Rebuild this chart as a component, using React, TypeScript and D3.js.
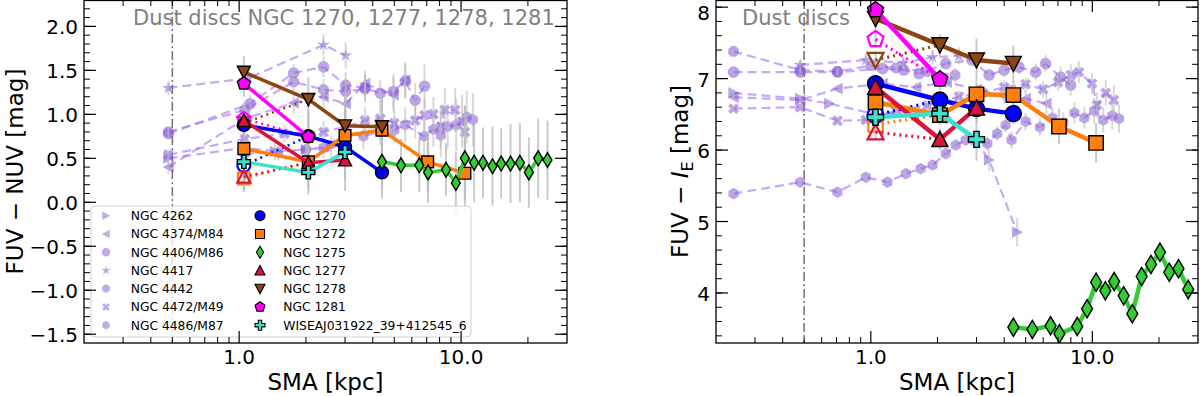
import * as React from "react"
import * as d3 from "d3"

const FONT = "DejaVu Sans, Liberation Sans, sans-serif"

// annuli of the dust-disc galaxies [kpc]
const SMA_DISC = [1.05, 2.05, 3.0, 4.4, 7.07, 10.4]
const SMA_1275 = [4.4, 5.36, 6.48, 7.1, 8.55, 9.47, 10.4, 11.45, 12.55, 13.85, 15.15, 16.7, 18.4, 20.2, 22.25, 24.5, 27.1]

// FUV - NUV : [value, error] per annulus
const nuv1270 = [[0.88, 0.15], [0.75, 0.2], [0.63, 0.25], [0.34, 0.3]]
const nuv1272 = [[0.61, 0.15], [0.46, 0.2], [0.76, 0.3], [0.82, 0.35], [0.46, 0.35], [0.33, 0.3]]
const nuv1275 = [[0.46, 0.3], [0.42, 0.3], [0.42, 0.3], [0.34, 0.35], [0.37, 0.3], [0.22, 0.35], [0.5, 0.6], [0.45, 0.45], [0.45, 0.4], [0.41, 0.45], [0.44, 0.4], [0.44, 0.45], [0.45, 0.45], [0.34, 0.4], [0.5, 0.45], [0.48, 0.45]]
const nuv1277 = [[0.93, 0.2], [0.45, 0.3], [0.48, 0.35]]
const nuv1278 = [[1.48, 0.18], [1.17, 0.25], [0.87, 0.35], [0.86, 0.35]]
const nuv1281 = [[1.35, 0.15], [0.745, 0.3]]
const nuvWisea = [[0.46, 0.2], [0.34, 0.25], [0.57, 0.3]]
// inner measurement (open symbols) at the first annulus
const nuvIn1270 = [0.42, 0.2]
const nuvIn1272 = [0.27, 0.15]
const nuvIn1277 = [0.29, 0.15]
const nuvIn1278 = [0.9, 0.2]
const nuvIn1281 = [0.95, 0.15]

// FUV - I_E : [value, error] per annulus
const ie1270 = [[6.93, 0.1], [6.7, 0.12], [6.58, 0.15], [6.51, 0.15]]
const ie1272 = [[6.67, 0.1], [6.49, 0.12], [6.78, 0.15], [6.77, 0.2], [6.33, 0.25], [6.1, 0.28]]
const ie1275 = [[3.52, 0.08], [3.49, 0.08], [3.54, 0.08], [3.43, 0.08], [3.53, 0.08], [3.78, 0.1], [4.15, 0.1], [4.03, 0.1], [4.16, 0.1], [3.96, 0.1], [3.71, 0.12], [4.23, 0.12], [4.4, 0.12], [4.57, 0.12], [4.29, 0.12], [4.34, 0.14], [4.05, 0.16]]
const ie1277 = [[6.88, 0.12], [6.15, 0.15], [6.59, 0.2]]
const ie1278 = [[7.84, 0.15], [7.47, 0.15], [7.26, 0.3], [7.21, 0.25]]
const ie1281 = [[7.96, 0.15], [6.99, 0.15]]
const ieWisea = [[6.46, 0.12], [6.51, 0.15], [6.15, 0.3]]
const ieIn1270 = [6.49, 0.1]
const ieIn1272 = [6.36, 0.1]
const ieIn1277 = [6.25, 0.1]
const ieIn1278 = [7.26, 0.12]
const ieIn1281 = [7.55, 0.12]

// comparison galaxies : [sma, value, error]
const nuv4262 = [[0.48, 0.5, 0.08], [1.06, 0.62, 0.1], [1.45, 0.58, 0.1], [2.0, 0.6, 0.12], [2.6, 0.63, 0.12], [3.0, 0.66, 0.15]]
const nuv4374 = [[0.48, 0.4, 0.08], [1.06, 0.95, 0.1], [1.76, 1.13, 0.12], [2.4, 1.2, 0.12], [3.02, 1.12, 0.15], [3.69, 1.35, 0.15], [4.96, 1.22, 0.2], [5.6, 1.39, 0.2]]
const nuv4406 = [[0.48, 0.78, 0.06], [1.12, 1.12, 0.1], [1.76, 1.47, 0.1], [2.4, 1.54, 0.12], [3.02, 1.33, 0.15], [3.69, 1.3, 0.15], [4.32, 1.24, 0.15], [4.96, 1.26, 0.2], [5.6, 1.38, 0.2], [6.21, 1.16, 0.2], [6.84, 1.32, 0.25]]
const nuv4417 = [[0.48, 1.3, 0.08], [1.1, 1.41, 0.1], [2.4, 1.79, 0.12], [3.02, 1.67, 0.15]]
const nuv4442 = [[0.48, 0.8, 0.06], [1.06, 1.05, 0.1], [1.76, 1.37, 0.12], [2.4, 1.28, 0.12], [3.02, 1.26, 0.15], [3.69, 1.29, 0.15]]
const nuv4472 = [[0.48, 0.54, 0.06], [1.06, 0.72, 0.1], [1.6, 0.78, 0.1], [2.4, 0.8, 0.12], [3.02, 0.86, 0.12], [3.69, 0.93, 0.15], [4.32, 0.95, 0.15], [5.0, 0.9, 0.15], [6.21, 0.93, 0.2], [6.84, 0.99, 0.2], [7.5, 1.0, 0.2], [8.1, 0.86, 0.25], [8.45, 1.05, 0.25], [9.4, 1.05, 0.25], [10.1, 0.92, 0.3], [10.4, 0.8, 0.3]]
const nuv4486 = [[1.06, 0.55, 0.1], [1.5, 0.57, 0.1], [2.0, 0.6, 0.1], [2.4, 0.62, 0.12], [3.02, 0.79, 0.12], [3.63, 0.75, 0.15], [4.32, 0.8, 0.15], [5.0, 0.82, 0.15], [5.6, 0.88, 0.2], [6.81, 0.75, 0.25], [7.5, 0.83, 0.2], [8.1, 0.76, 0.25], [8.7, 0.86, 0.25], [9.5, 0.88, 0.3], [10.6, 0.97, 0.3], [11.3, 0.94, 0.3]]

const ie4262 = [[0.24, 6.8, 0.05], [0.48, 6.72, 0.05], [0.65, 6.65, 0.05], [1.05, 6.5, 0.06], [1.5, 6.55, 0.08], [2.2, 6.45, 0.1], [2.97, 6.14, 0.12], [3.42, 5.86, 0.15], [4.58, 4.85, 0.2]]
const ie4374 = [[0.24, 6.74, 0.04], [0.48, 6.7, 0.04], [0.707, 6.86, 0.05], [1.13, 6.93, 0.05], [1.6, 6.88, 0.06], [2.2, 6.95, 0.08], [3.0, 6.85, 0.1], [4.0, 6.75, 0.1], [5.0, 6.72, 0.12], [6.2, 6.65, 0.15]]
const ie4406 = [[0.24, 7.09, 0.04], [0.48, 7.09, 0.04], [0.707, 7.09, 0.04], [1.13, 7.14, 0.05], [1.41, 7.12, 0.05], [1.65, 7.07, 0.06], [2.18, 7.21, 0.06], [2.86, 7.26, 0.08], [3.42, 7.05, 0.08], [4.0, 7.12, 0.1], [4.67, 7.16, 0.1], [5.55, 7.09, 0.12], [6.15, 7.21, 0.12], [7.19, 7.02, 0.15], [7.98, 6.91, 0.15]]
const ie4417 = [[0.48, 7.19, 0.05], [0.95, 7.26, 0.06], [1.4, 7.22, 0.08], [1.9, 7.3, 0.1], [2.5, 7.32, 0.12]]
const ie4442 = [[0.24, 7.38, 0.04], [0.48, 7.12, 0.04], [0.707, 7.1, 0.05], [1.0, 7.18, 0.05], [1.3, 7.15, 0.06], [1.8, 7.1, 0.08], [2.4, 7.05, 0.1]]
const ie4472 = [[0.24, 6.58, 0.04], [0.48, 6.6, 0.04], [0.707, 6.41, 0.05], [0.95, 6.42, 0.05], [1.3, 6.55, 0.06], [1.8, 6.62, 0.06], [2.5, 6.75, 0.08], [3.2, 6.8, 0.08], [4.0, 6.88, 0.1], [5.0, 6.92, 0.1], [6.0, 6.85, 0.12], [7.0, 6.95, 0.12], [8.0, 7.05, 0.15], [8.7, 7.09, 0.15], [9.97, 6.93, 0.15], [10.5, 6.63, 0.18], [11.5, 6.8, 0.18], [12.5, 6.7, 0.2]]
const ie4486 = [[0.24, 5.39, 0.04], [0.48, 5.55, 0.04], [0.707, 5.41, 0.05], [0.95, 5.62, 0.05], [1.19, 5.55, 0.05], [1.44, 5.67, 0.06], [1.68, 5.74, 0.06], [1.9, 5.79, 0.06], [2.18, 5.95, 0.08], [2.42, 6.07, 0.08], [2.68, 6.14, 0.08], [3.36, 6.09, 0.1], [3.72, 6.23, 0.1], [4.06, 6.35, 0.1], [4.32, 6.14, 0.12], [5.0, 6.4, 0.12], [5.8, 6.32, 0.12], [6.6, 6.45, 0.15], [7.4, 6.38, 0.15], [8.3, 6.52, 0.15], [9.2, 6.45, 0.15], [10.2, 6.55, 0.18], [11.2, 6.42, 0.18], [12.3, 6.48, 0.2], [13.2, 6.44, 0.2]]

const comparison = [
  { name: "NGC 4262", shape: ">", nuv: nuv4262, ie: ie4262 },
  { name: "NGC 4374/M84", shape: "<", nuv: nuv4374, ie: ie4374 },
  { name: "NGC 4406/M86", shape: "o", nuv: nuv4406, ie: ie4406 },
  { name: "NGC 4417", shape: "*", nuv: nuv4417, ie: ie4417 },
  { name: "NGC 4442", shape: "8", nuv: nuv4442, ie: ie4442 },
  { name: "NGC 4472/M49", shape: "X", nuv: nuv4472, ie: ie4472 },
  { name: "NGC 4486/M87", shape: "h", nuv: nuv4486, ie: ie4486 },
]

const discs = [
  { name: "NGC 1270", shape: "o", color: "#0000ff", sma: SMA_DISC, nuv: nuv1270, ie: ie1270, nuvIn: nuvIn1270, ieIn: ieIn1270 },
  { name: "NGC 1272", shape: "s", color: "#ff7f0e", sma: SMA_DISC, nuv: nuv1272, ie: ie1272, nuvIn: nuvIn1272, ieIn: ieIn1272 },
  { name: "NGC 1275", shape: "d", color: "#32cd32", sma: SMA_1275, nuv: nuv1275, ie: ie1275, nuvIn: null, ieIn: null },
  { name: "NGC 1277", shape: "^", color: "#dc143c", sma: SMA_DISC, nuv: nuv1277, ie: ie1277, nuvIn: nuvIn1277, ieIn: ieIn1277 },
  { name: "NGC 1278", shape: "v", color: "#8b4513", sma: SMA_DISC, nuv: nuv1278, ie: ie1278, nuvIn: nuvIn1278, ieIn: ieIn1278 },
  { name: "NGC 1281", shape: "p", color: "#ff00ff", sma: SMA_DISC, nuv: nuv1281, ie: ie1281, nuvIn: nuvIn1281, ieIn: ieIn1281 },
  { name: "WISEAJ031922_39+412545_6", shape: "P", color: "#40e0d0", sma: SMA_DISC, nuv: nuvWisea, ie: ieWisea, nuvIn: null, ieIn: null },
]

const PURPLE = "#8456d8"
const PURPLE_LINE = "#a56ef2"
const ERR = "#b8b8b8"

function poly(pts: number[][]) {
  return "M" + pts.map(p => p[0].toFixed(2) + "," + p[1].toFixed(2)).join("L") + "Z"
}

function regular(n: number, r: number, rot: number) {
  return poly(d3.range(n).map(i => {
    const a = rot + (i * 2 * Math.PI) / n
    return [r * Math.sin(a), -r * Math.cos(a)]
  }))
}

function plus(r: number, rot: number) {
  const a = r / 3
  const pts = [[-a, -r], [a, -r], [a, -a], [r, -a], [r, a], [a, a], [a, r], [-a, r], [-a, a], [-r, a], [-r, -a], [-a, -a]]
  const c = Math.cos(rot), s = Math.sin(rot)
  return poly(pts.map(p => [p[0] * c - p[1] * s, p[0] * s + p[1] * c]))
}

function marker(shape: string, r: number): string {
  switch (shape) {
    case "o": return d3.symbol(d3.symbolCircle, Math.PI * r * r)() as string
    case "s": return poly([[-r * 0.9, -r * 0.9], [r * 0.9, -r * 0.9], [r * 0.9, r * 0.9], [-r * 0.9, r * 0.9]])
    case "^": return poly([[0, -r], [r, r * 0.9], [-r, r * 0.9]])
    case "v": return poly([[0, r], [r, -r * 0.9], [-r, -r * 0.9]])
    case ">": return poly([[r, 0], [-r * 0.9, r], [-r * 0.9, -r]])
    case "<": return poly([[-r, 0], [r * 0.9, r], [r * 0.9, -r]])
    case "d": return poly([[0, -r * 1.2], [r * 0.72, 0], [0, r * 1.2], [-r * 0.72, 0]])
    case "p": return regular(5, r * 1.05, 0)
    case "h": return regular(6, r, 0)
    case "8": return regular(8, r, Math.PI / 8)
    case "*": return poly(d3.range(10).map(i => {
      const a = (i * Math.PI) / 5
      const rr = i % 2 ? r * 0.42 : r * 1.2
      return [rr * Math.sin(a), -rr * Math.cos(a)]
    }))
    case "P": return plus(r, 0)
    case "X": return plus(r, Math.PI / 4)
  }
  return ""
}

type Scale = d3.ScaleContinuousNumeric<number, number>

function Panel(p: {
  id: string
  x: Scale
  y: Scale
  band: "nuv" | "ie"
  yMajor: number[]
  yMinor: number[]
  yFmt: (v: number) => string
  labelX: number
  label: React.ReactNode
  noteX: number
  note: string
  r: number
  lw: number
  legend: boolean
}) {
  const { x, y, band, r, lw } = p
  const [x0, x1] = x.range()
  const [y0, y1] = y.range()
  const line = d3.line<number[]>().x(d => x(d[0])).y(d => y(d[1]))
  const xMajor = [1, 10]
  const xMinor = (x as d3.ScaleLogarithmic<number, number>).ticks()
    .filter(v => v > 0.201 && v < 29.9 && Math.abs(v - 1) > 1e-6 && Math.abs(v - 10) > 1e-6)
  const fmt = d3.format(".1f")

  const discPts = discs.map(g => {
    const vals = g[band] as number[][]
    return vals.map((d, i) => [g.sma[i], d[0], d[1]])
  })

  return (
    <g>
      <defs>
        <clipPath id={p.id}>
          <rect x={x0} y={y1} width={x1 - x0} height={y0 - y1} />
        </clipPath>
      </defs>
      <g clipPath={`url(#${p.id})`}>
        <line x1={x(0.5)} x2={x(0.5)} y1={y1} y2={y0} stroke="#707070" strokeWidth={1.5} strokeDasharray="9,3,2,3" />
        {comparison.map(g => (
          <path key={g.name} d={line(g[band]) as string} fill="none" stroke={PURPLE_LINE} strokeOpacity={0.6} strokeWidth={2.2} strokeDasharray="9,5" />
        ))}
        {comparison.map(g => g[band].map((d, i) => (
          <path key={g.name + i} d={marker(g.shape, 5.8)} transform={`translate(${x(d[0])},${y(d[1])})`} fill={PURPLE} fillOpacity={0.55} />
        )))}
        {comparison.map(g => g[band].map((d, i) => (
          <line key={"e" + g.name + i} x1={x(d[0])} x2={x(d[0])} y1={y(d[1] - d[2])} y2={y(d[1] + d[2])} stroke={ERR} strokeOpacity={0.55} strokeWidth={2} />
        )))}
        {discs.map((g, k) => discPts[k].map((d, i) => (
          <line key={"de" + k + i} x1={x(d[0])} x2={x(d[0])} y1={y(d[1] - d[2])} y2={y(d[1] + d[2])} stroke={ERR} strokeOpacity={0.75} strokeWidth={2} />
        )))}
        {discs.map((g, k) => {
          const inner = (band === "nuv" ? g.nuvIn : g.ieIn) as number[] | null
          if (!inner) return null
          const a = [g.sma[0], inner[0]]
          const b = discPts[k][1]
          return (
            <g key={"in" + k}>
              <line x1={x(a[0])} y1={y(inner[0] - inner[1])} x2={x(a[0])} y2={y(inner[0] + inner[1])} stroke={ERR} strokeOpacity={0.75} strokeWidth={2} />
              <path d={line([a, b]) as string} fill="none" stroke={g.color} strokeWidth={lw * 0.7} strokeDasharray="2,4" />
              <path d={marker(g.shape, r)} transform={`translate(${x(a[0])},${y(a[1])})`} fill="none" stroke={g.color} strokeWidth={2.2} />
            </g>
          )
        })}
        {discs.map((g, k) => (
          <g key={"d" + k}>
            <path d={line(discPts[k]) as string} fill="none" stroke={g.color} strokeWidth={lw} />
            {discPts[k].map((d, i) => (
              <path key={i} d={marker(g.shape, g.shape === "d" ? r * 0.95 : r)} transform={`translate(${x(d[0])},${y(d[1])})`} fill={g.color} stroke="#000" strokeWidth={1.4} />
            ))}
          </g>
        ))}
      </g>

      <text x={p.noteX} y={25} fontSize={21} fill="#808080">{p.note}</text>

      {p.legend && <Legend />}

      {/* ticks */}
      {xMajor.map(v => (
        <g key={"xm" + v}>
          <line x1={x(v)} x2={x(v)} y1={y0} y2={y0 - 12} stroke="#000" strokeWidth={1.2} />
          <line x1={x(v)} x2={x(v)} y1={y1} y2={y1 + 12} stroke="#000" strokeWidth={1.2} />
          <text x={x(v)} y={364} fontSize={20} textAnchor="middle">{fmt(v)}</text>
        </g>
      ))}
      {xMinor.map(v => (
        <g key={"xn" + v}>
          <line x1={x(v)} x2={x(v)} y1={y0} y2={y0 - 6} stroke="#000" strokeWidth={1} />
          <line x1={x(v)} x2={x(v)} y1={y1} y2={y1 + 6} stroke="#000" strokeWidth={1} />
        </g>
      ))}
      {p.yMajor.map(v => (
        <g key={"ym" + v}>
          <line x1={x0} x2={x0 + 12} y1={y(v)} y2={y(v)} stroke="#000" strokeWidth={1.2} />
          <line x1={x1} x2={x1 - 12} y1={y(v)} y2={y(v)} stroke="#000" strokeWidth={1.2} />
          <text x={x0 - 6} y={Math.max(y(v), 11.5)} dy="0.4em" fontSize={20} textAnchor="end">{p.yFmt(v)}</text>
        </g>
      ))}
      {p.yMinor.map(v => (
        <g key={"yn" + v}>
          <line x1={x0} x2={x0 + 6} y1={y(v)} y2={y(v)} stroke="#000" strokeWidth={1} />
          <line x1={x1} x2={x1 - 6} y1={y(v)} y2={y(v)} stroke="#000" strokeWidth={1} />
        </g>
      ))}
      <rect x={x0} y={y1 + 0.5} width={x1 - x0} height={y0 - y1 - 0.5} fill="none" stroke="#000" strokeWidth={1.3} />

      <text x={(x0 + x1) / 2} y={390} fontSize={23} textAnchor="middle">SMA [kpc]</text>
      <text transform={`translate(${p.labelX},171.5) rotate(-90)`} fontSize={23} textAnchor="middle">{p.label}</text>
    </g>
  )
}

function Legend() {
  const top = 215.7
  const step = 18.25
  return (
    <g fontSize={12.3}>
      <rect x={91} y={206} width={380} height={131} rx={4} fill="#fff" fillOpacity={0.8} stroke="#d0d0d0" strokeWidth={1} />
      {comparison.map((g, i) => (
        <g key={g.name}>
          <path d={marker(g.shape, 4.2)} transform={`translate(106,${top + i * step})`} fill={PURPLE} fillOpacity={0.5} />
          <text x={130.7} y={top + i * step} dy="0.36em">{g.name}</text>
        </g>
      ))}
      {discs.map((g, i) => (
        <g key={g.name}>
          <path d={marker(g.shape, 5)} transform={`translate(260,${top + i * step})`} fill={g.color} stroke="#000" strokeWidth={1.1} />
          <text x={283.3} y={top + i * step} dy="0.36em">{g.name}</text>
        </g>
      ))}
    </g>
  )
}

export default function App() {
  const xL = d3.scaleLog().domain([0.2, 30]).range([84, 567])
  const yL = d3.scaleLinear().domain([-1.6, 2.3]).range([343, 0])
  const xR = d3.scaleLog().domain([0.2, 30]).range([716, 1198])
  const yR = d3.scaleLinear().domain([3.3, 8.1]).range([343, 0])
  const inside = (s: Scale, v: number) => v > s.domain()[0] + 1e-6 && v < s.domain()[1] - 1e-6

  return (
    <div style={{ position: "absolute", left: 0, top: 0 }}>
      <svg width={1200} height={396} style={{ display: "block", fontFamily: FONT }}>
        <rect width={1200} height={396} fill="#fff" />
        <Panel
          id="clipL" x={xL} y={yL} band="nuv"
          yMajor={yL.ticks(8)} yMinor={yL.ticks(40).filter(v => inside(yL, v))}
          yFmt={d3.format(".1f")}
          labelX={23}
          label={"FUV \u2212 NUV [mag]"}
          noteX={133} note="Dust discs NGC 1270, 1277, 1278, 1281"
          r={6.5} lw={3.5} legend={true}
        />
        <Panel
          id="clipR" x={xR} y={yR} band="ie"
          yMajor={yR.ticks(5)} yMinor={yR.ticks(25).filter(v => inside(yR, v))}
          yFmt={d3.format("d")}
          labelX={688}
          label={<>FUV {"\u2212"} <tspan fontStyle="italic">I</tspan><tspan dy={5} fontSize={16}>E</tspan><tspan dy={-5}> [mag]</tspan></>}
          noteX={742} note="Dust discs"
          r={8} lw={4.5} legend={false}
        />
      </svg>
    </div>
  )
}
